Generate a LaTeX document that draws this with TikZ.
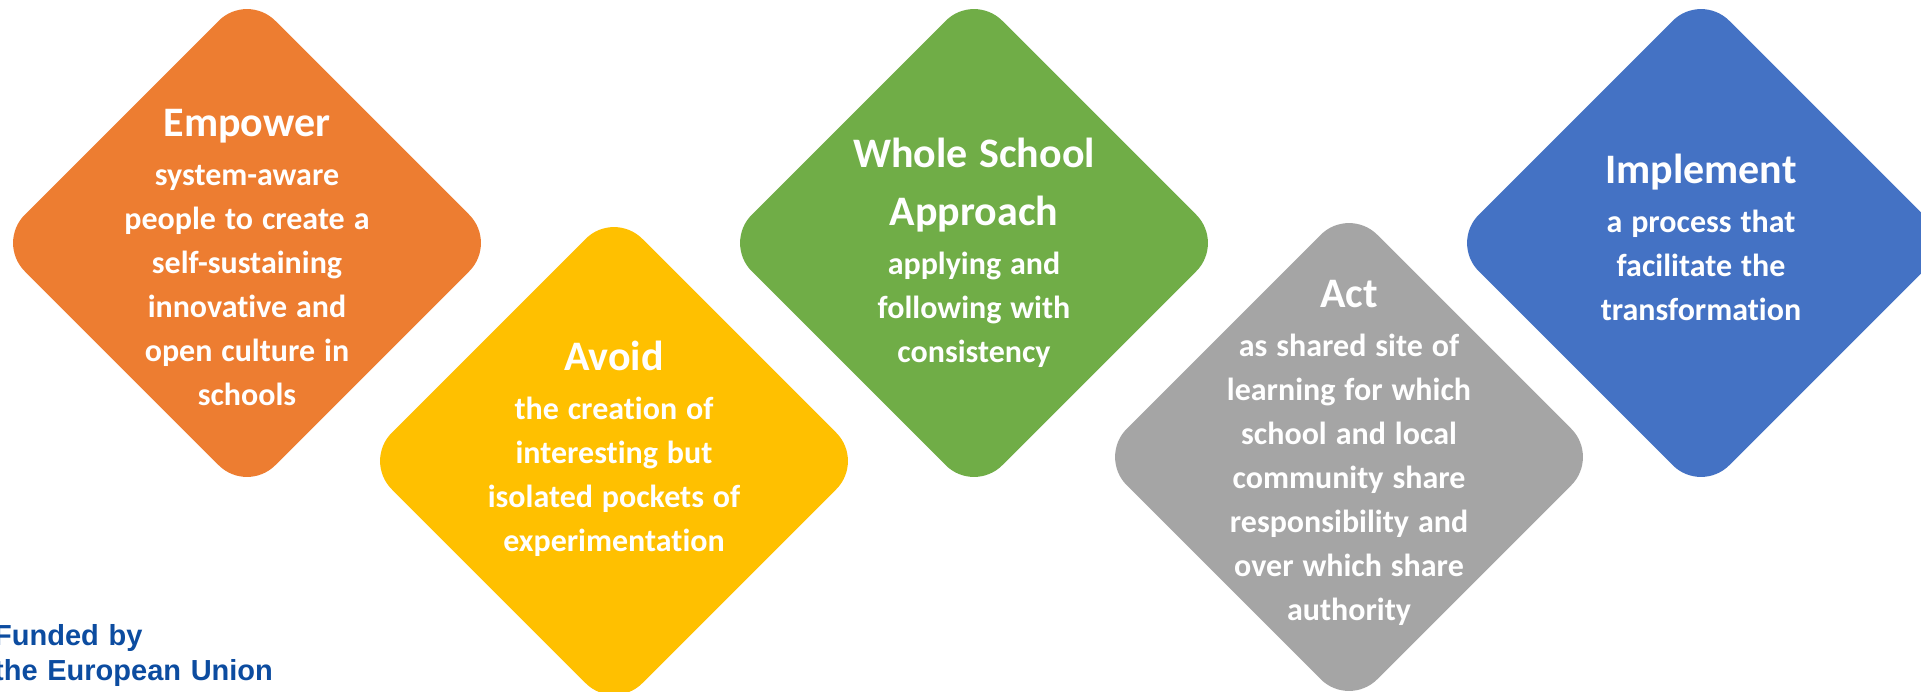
\documentclass[tikz,border=0pt]{standalone}
\usepackage{fontspec}
\setmainfont{Carlito}[Ligatures=NoCommon]
\newfontfamily\eufont{Liberation Sans}
\usetikzlibrary{shapes.geometric}
\definecolor{cOrange}{HTML}{ED7D31}
\definecolor{cYellow}{HTML}{FFC000}
\definecolor{cGreen}{HTML}{70AD47}
\definecolor{cGray}{HTML}{A5A5A5}
\definecolor{cBlue}{HTML}{4472C4}
\definecolor{euBlue}{RGB}{12,76,160}
\newcommand\ttl{\fontsize{42}{58}\selectfont\spaceskip=0.28em\relax}
\newcommand\bdy{\fontsize{32}{44}\selectfont\spaceskip=0.28em\relax\vspace*{5pt}}
\begin{document}
\begin{tikzpicture}[x=1pt,y=-1pt,
  dia/.style={shape=diamond, aspect=1, minimum width=501pt, minimum height=501pt,
    inner sep=0pt, outer sep=0pt, rounded corners=40pt, draw=none},
  lbl/.style={text=white, font=\bfseries, text width=440pt, align=center,
    anchor=base, inner sep=0pt},
  eu/.style={text=euBlue, font=\eufont\bfseries\fontsize{29}{35}\selectfont,
    text width=400pt, align=left, anchor=base west, inner sep=0pt}]
\useasboundingbox (0,0) rectangle (1921,691);
\clip (0,0) rectangle (1921,691);
\fill[white] (0,0) rectangle (1921,691);
\node[dia, fill=cOrange] (d1) at (247,243) {};
\node[dia, fill=cYellow] (d2) at (614,461) {};
\node[dia, fill=cGreen]  (d3) at (974,243) {};
\node[dia, fill=cGray]   (d4) at (1349,457) {};
\node[dia, fill=cBlue]   (d5) at (1701,243) {};
\node[lbl] (t1) at (247,136) {\ttl Empower\par\bdy system-aware\\people to create a\\self-sustaining\\innovative and\\open culture in\\schools\par};
\node[lbl] (t2) at (614,370) {\ttl Avoid\par\bdy the creation of\\interesting but\\isolated pockets of\\experimentation\par};
\node[lbl] (t3) at (974,167) {\ttl Whole School\\Approach\par\bdy applying and\\following with\\consistency\par};
\node[lbl] (t4) at (1349,307) {\ttl Act\par\bdy as shared site of\\learning for which\\school and local\\community share\\responsibility and\\over which share\\authority\par};
\node[lbl] (t5) at (1701,183) {\ttl Implement\par\bdy a process that\\facilitate the\\transformation\par};
\node[eu] (eu) at (-6,645) {Funded by\\the European Union};
\end{tikzpicture}
\end{document}
